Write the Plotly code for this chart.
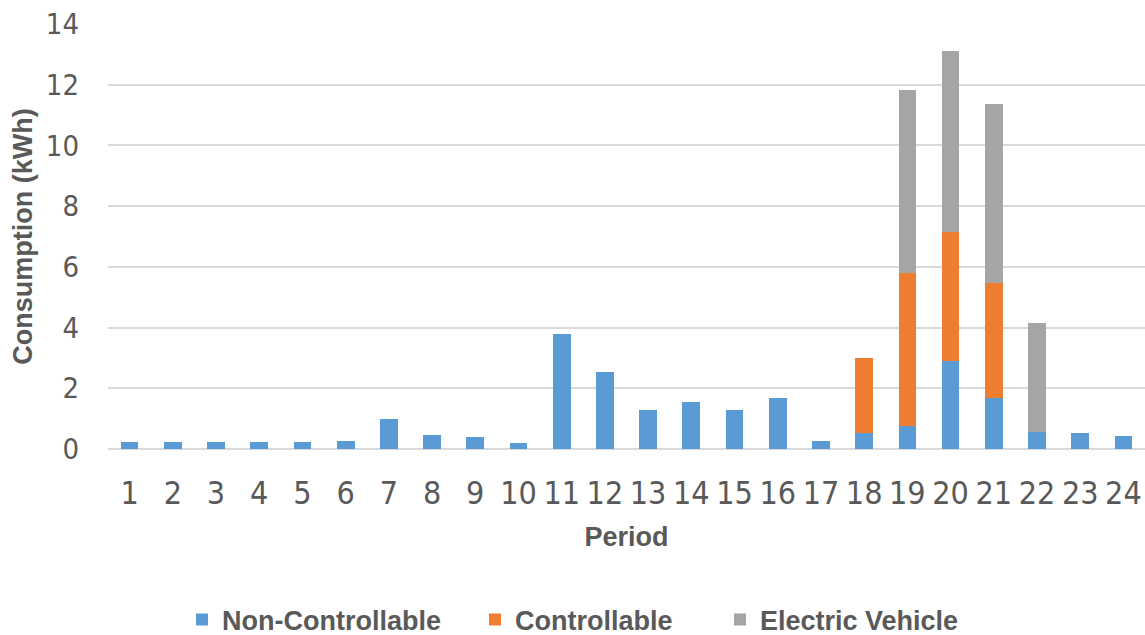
import plotly.graph_objects as go

# Hourly household consumption by load type (kWh)
periods = [str(i) for i in range(1, 25)]
non_controllable = [0.22, 0.22, 0.22, 0.22, 0.22, 0.28, 1.0, 0.45, 0.4, 0.2, 3.8, 2.55,
                    1.3, 1.55, 1.3, 1.68, 0.25, 0.52, 0.76, 2.9, 1.69, 0.57, 0.52, 0.44]
controllable = [0, 0, 0, 0, 0, 0, 0, 0, 0, 0, 0, 0,
                0, 0, 0, 0, 0, 2.47, 5.03, 4.26, 3.79, 0, 0, 0]
electric_vehicle = [0, 0, 0, 0, 0, 0, 0, 0, 0, 0, 0, 0,
                    0, 0, 0, 0, 0, 0, 6.02, 5.96, 5.89, 3.59, 0, 0]
y_ticks = [0, 2, 4, 6, 8, 10, 12, 14]

TEXT = "#595959"
NARROW = "Liberation Sans Narrow, Arial Narrow, DejaVu Sans Condensed, sans-serif"
BOLD = "Liberation Sans, Arial, sans-serif"

fig = go.Figure()
fig.add_bar(x=periods, y=non_controllable, name="Non-Controllable",
            marker=dict(color="#5B9BD5", line_width=0), legend="legend")
fig.add_bar(x=periods, y=controllable, name="Controllable",
            marker=dict(color="#ED7D31", line_width=0), legend="legend2")
fig.add_bar(x=periods, y=electric_vehicle, name="Electric Vehicle",
            marker=dict(color="#A5A5A5", line_width=0), legend="legend3")

legend_font = dict(family=BOLD, size=27, color=TEXT, weight="bold")


def legend_at(px):
    return dict(orientation="h", xref="container", yref="container",
                x=px / 1145, y=1 - 620 / 635, xanchor="left", yanchor="middle",
                font=legend_font, bgcolor="rgba(0,0,0,0)")


fig.update_layout(
    width=1145, height=635,
    margin=dict(l=108, r=0, t=24, b=186),
    barmode="stack", bargap=0.59,
    plot_bgcolor="white", paper_bgcolor="white",
    showlegend=True,
    legend=legend_at(182),
    legend2=legend_at(475),
    legend3=legend_at(720),
    xaxis=dict(
        type="category", range=[-0.5, 23.5],
        showgrid=False, showline=False, zeroline=False, ticks="",
        tickfont=dict(family=NARROW, size=32, color=TEXT),
        ticklabelstandoff=22,
        title=dict(text="Period", standoff=16,
                   font=dict(family=BOLD, size=27, color=TEXT, weight="bold")),
    ),
    yaxis=dict(
        range=[0, 14], tickvals=y_ticks,
        showgrid=True, gridcolor="#D9D9D9", gridwidth=1.5,
        zeroline=True, zerolinecolor="#D9D9D9", zerolinewidth=1.5,
        showline=False, ticks="",
        tickfont=dict(family=NARROW, size=29, color=TEXT),
        ticklabelstandoff=28,
        title=dict(text="Consumption (kWh)", standoff=5,
                   font=dict(family=BOLD, size=27, color=TEXT, weight="bold")),
    ),
)

fig.write_html("out.html")
